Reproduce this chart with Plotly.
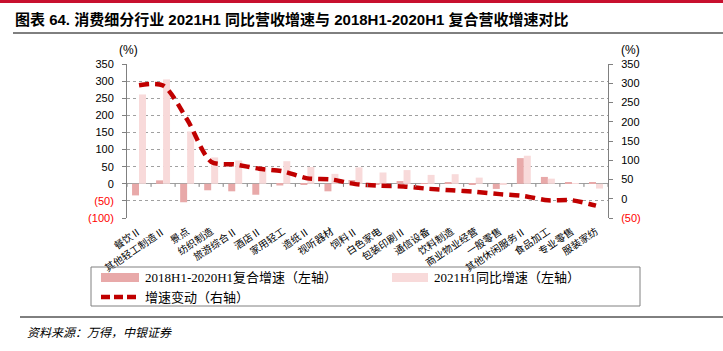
import plotly.graph_objects as go

categories = ["餐饮Ⅱ", "其他轻工制造Ⅱ", "景点", "纺织制造", "旅游综合Ⅱ", "酒店Ⅱ", "家用轻工",
              "造纸Ⅱ", "视听器材", "饲料Ⅱ", "白色家电", "包装印刷Ⅱ", "通信设备", "饮料制造",
              "商业物业经营", "一般零售", "其他休闲服务Ⅱ", "食品加工", "专业零售", "服装家纺"]
cagr_2018_2020 = [-34, 10, -54, -19, -22, -32, -5, -3, -22, 11, -1, 8, 0.5, 5, -1, -15, 75, 20, 5, 5]
yoy_2021h1 = [261, 305, 153, 77, 68, 46, 66, 49, 29, 48, 33, 40, 26, 28, 18, -3, 82, 15, 2, -14]
growth_change = [295, 294, 206, 96, 89, 78, 71, 53, 50, 38, 34, 32, 26, 22, 18, 12, 7, -4, -4, -18]

left_ticks = [-100, -50, 0, 50, 100, 150, 200, 250, 300, 350]
right_ticks = [-50, 0, 50, 100, 150, 200, 250, 300, 350]

RED = "#FF0000"


def tick_text(v):
    if v < 0:
        return f"<span style='color:{RED}'>({abs(v)})</span>"
    return str(v)


W, H = 723, 351
L, R, T, B = 127, 608, 64, 218


def px(x):
    return (x - L) / (R - L)


def py(y):
    return (B - y) / (B - T)


DARK = "#E8A9A9"
LIGHT = "#F8DADA"
LINE = "#C00000"

fig = go.Figure()
fig.add_trace(go.Bar(x=categories, y=cagr_2018_2020, name="2018H1-2020H1复合增速（左轴）",
                     marker=dict(color=DARK, line=dict(width=0)), yaxis="y"))
fig.add_trace(go.Bar(x=categories, y=yoy_2021h1, name="2021H1同比增速（左轴）",
                     marker=dict(color=LIGHT, line=dict(width=0)), yaxis="y"))
fig.add_trace(go.Scatter(x=categories, y=growth_change, name="增速变动（右轴）", mode="lines",
                         line=dict(color=LINE, width=4.5, dash="10px,6px", shape="spline", smoothing=0.8),
                         yaxis="y2"))

axis_font = dict(family="Liberation Sans, Arial, sans-serif", size=11, color="#000000")

fig.update_layout(
    width=W, height=H,
    margin=dict(l=L, r=W - R, t=T, b=H - B, pad=0),
    paper_bgcolor="white", plot_bgcolor="white",
    showlegend=False,
    barmode="group", bargap=0.42, bargroupgap=0,
    xaxis=dict(
        type="category", tickangle=-34, showline=False, showgrid=False,
        ticks="outside", ticklen=3, tickcolor="rgba(0,0,0,0)",
        tickfont=dict(family="Noto Sans CJK SC, sans-serif", size=10, color="#000000"),
        range=[-0.5, len(categories) - 0.5],
    ),
    yaxis=dict(
        range=[-100, 350], tickvals=left_ticks, ticktext=[tick_text(v) for v in left_ticks],
        showgrid=True, gridcolor="#A0A0A0", griddash="dot", gridwidth=1,
        zeroline=True, zerolinecolor="#A0A0A0", zerolinewidth=1,
        showline=True, linecolor="#808080", linewidth=1,
        ticks="outside", ticklen=4, tickcolor="#808080",
        tickfont=axis_font, ticklabelstandoff=6,
    ),
    yaxis2=dict(
        range=[-50, 350], tickvals=right_ticks, ticktext=[tick_text(v) for v in right_ticks],
        overlaying="y", side="right", showgrid=False, zeroline=False,
        showline=True, linecolor="#808080", linewidth=1,
        ticks="outside", ticklen=4, tickcolor="#808080",
        tickfont=axis_font, ticklabelstandoff=6,
    ),
)

shapes = []
# category boundary tick marks on the zero line
for k in range(len(categories) + 1):
    shapes.append(dict(type="line", xref="x", yref="y", x0=k - 0.5, x1=k - 0.5, y0=0, y1=-9,
                       line=dict(color="#808080", width=1)))
# top red band
shapes.append(dict(type="rect", xref="paper", yref="paper", x0=px(0), x1=px(W), y0=py(0), y1=py(3),
                   fillcolor="#C8102E", line=dict(width=0)))
# title underline
shapes.append(dict(type="line", xref="paper", yref="paper", x0=px(13), x1=px(W), y0=py(33), y1=py(33),
                   line=dict(color="#000000", width=1)))
# source line
shapes.append(dict(type="line", xref="paper", yref="paper", x0=px(20), x1=px(W), y0=py(317), y1=py(317),
                   line=dict(color="#000000", width=1)))
# legend box
shapes.append(dict(type="rect", xref="paper", yref="paper", x0=px(91), x1=px(640), y0=py(267), y1=py(306),
                   line=dict(color="#808080", width=1), fillcolor="rgba(0,0,0,0)"))
shapes.append(dict(type="rect", xref="paper", yref="paper", x0=px(101), x1=px(139), y0=py(273), y1=py(282),
                   line=dict(width=0), fillcolor=DARK))
shapes.append(dict(type="rect", xref="paper", yref="paper", x0=px(392), x1=px(428), y0=py(273), y1=py(282),
                   line=dict(width=0), fillcolor=LIGHT))
shapes.append(dict(type="line", xref="paper", yref="paper", x0=px(101), x1=px(139), y0=py(297), y1=py(297),
                   line=dict(color=LINE, width=4.5, dash="9px,4px")))
fig.update_layout(shapes=shapes)

legend_font = dict(family="Liberation Serif, Noto Sans CJK SC, serif", size=13, color="#000000")
ann = [
    dict(text="<b>图表 64. 消费细分行业 2021H1 同比营收增速与 2018H1-2020H1 复合营收增速对比</b>",
         x=px(13), y=py(19), xanchor="left", yanchor="middle",
         font=dict(family="Liberation Sans, Noto Sans CJK SC, sans-serif", size=15, color="#000000")),
    dict(text="(%)", x=px(128), y=py(50), xanchor="center", yanchor="middle",
         font=dict(family="Liberation Sans, Arial, sans-serif", size=12, color="#000000")),
    dict(text="(%)", x=px(630), y=py(50), xanchor="center", yanchor="middle",
         font=dict(family="Liberation Sans, Arial, sans-serif", size=12, color="#000000")),
    dict(text="2018H1-2020H1复合增速（左轴）", x=px(143), y=py(277), xanchor="left", yanchor="middle",
         font=legend_font),
    dict(text="2021H1同比增速（左轴）", x=px(432), y=py(277), xanchor="left", yanchor="middle",
         font=legend_font),
    dict(text="增速变动（右轴）", x=px(143), y=py(297), xanchor="left", yanchor="middle",
         font=legend_font),
    dict(text="<i>资料来源：万得，中银证券</i>", x=px(25), y=py(331), xanchor="left", yanchor="middle",
         font=dict(family="Noto Sans CJK SC, sans-serif", size=12, color="#000000")),
]
for a in ann:
    a.update(xref="paper", yref="paper", showarrow=False)
fig.update_layout(annotations=ann)

fig.write_html("out.html")
